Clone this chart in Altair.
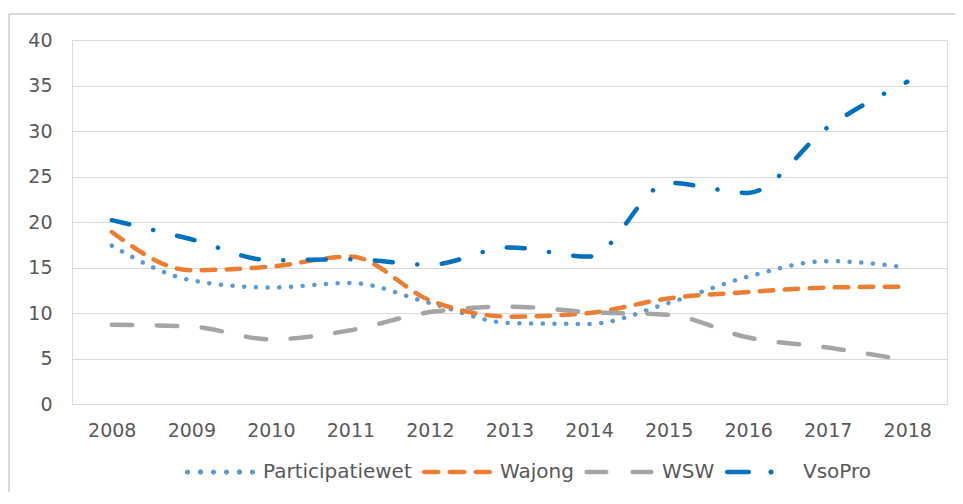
import json
import altair as alt
import pandas as pd

years = ["2008", "2009", "2010", "2011", "2012", "2013", "2014", "2015", "2016", "2017", "2018"]
series_names = ["Participatiewet", "Wajong", "WSW", "VsoPro"]
participatiewet = [17.4, 13.6, 12.8, 13.3, 11.1, 8.9, 8.8, 11.1, 14.0, 15.7, 15.0]
wajong = [18.9, 14.7, 15.1, 16.2, 11.4, 9.6, 10.0, 11.6, 12.3, 12.8, 12.9]
wsw = [8.7, 8.5, 7.1, 8.1, 10.1, 10.7, 10.1, 9.8, 7.3, 6.2, 4.8]
vsopro = [20.2, 18.1, 15.8, 15.9, 15.3, 17.2, 16.2, 24.3, 23.2, 30.4, 35.4]
y_ticks = [0, 5, 10, 15, 20, 25, 30, 35, 40]

colors = ["#5B9BD5", "#ED7D31", "#A5A5A5", "#0070C0"]
dashes = [[0.1, 11.6], [13.5, 11.5], [20.5, 24.5], [18, 24.5, 0.1, 24.5]]
widths = [4.5, 4.5, 4.5, 5.0]

rows = []
for name, vals in zip(series_names, [participatiewet, wajong, wsw, vsopro]):
    for yr, v in zip(years, vals):
        rows.append({"jaar": yr, "serie": name, "waarde": v})
df = pd.DataFrame(rows)

legend_df = pd.DataFrame({"nr": [str(i) for i in range(len(series_names))], "serie": series_names})
nr_domain = list(legend_df["nr"])

# legend symbol shapes (unit: 35 px)
U = 35.0
H = 2.25 / U
R = 2.6 / U


def circ(cx):
    cx = cx / U
    return f"M{cx - R:.4f},0A{R:.4f},{R:.4f} 0 1,0 {cx + R:.4f},0A{R:.4f},{R:.4f} 0 1,0 {cx - R:.4f},0Z"


def seg(a, b):
    a, b = a / U, b / U
    return (f"M{a + H:.4f},{-H:.4f}L{b - H:.4f},{-H:.4f}A{H:.4f},{H:.4f} 0 0,1 {b - H:.4f},{H:.4f}"
            f"L{a + H:.4f},{H:.4f}A{H:.4f},{H:.4f} 0 0,1 {a + H:.4f},{-H:.4f}Z")


shapes = [
    "".join(circ(c) for c in [-32.5, -19.5, -6.5, 6.5, 19.5, 32.5]),
    seg(-35, -16.5) + seg(-9.5, 9.5) + seg(16.5, 35),
    seg(-34.5, -10.5) + seg(11.5, 34.5),
    seg(-35, -9) + circ(11),
]

FONT = "DejaVu Sans"
TXT = "#595959"

x_enc = alt.X("jaar:O", sort=years, scale=alt.Scale(type="point", padding=0.5),
              axis=alt.Axis(title=None, labelAngle=0, domain=False, ticks=False, grid=False,
                            labelFont=FONT, labelFontSize=19, labelColor=TXT, labelPadding=17))
y_enc = alt.Y("waarde:Q", scale=alt.Scale(domain=[0, 40], nice=False, zero=True),
              axis=alt.Axis(title=None, values=y_ticks, domain=False, ticks=False,
                            grid=True, gridColor="#D9D9D9", gridWidth=1.2,
                            labelFont=FONT, labelFontSize=19, labelColor=TXT, labelPadding=20))

lines = alt.Chart(df).mark_line(interpolate="monotone", strokeCap="round").encode(
    x=x_enc,
    y=y_enc,
    color=alt.Color("serie:N", scale=alt.Scale(domain=series_names, range=colors), legend=None),
    strokeDash=alt.StrokeDash("serie:N", scale=alt.Scale(domain=series_names, range=dashes), legend=None),
    strokeWidth=alt.StrokeWidth("serie:N", scale=alt.Scale(domain=series_names, range=widths), legend=None),
)

label_expr = f"{json.dumps(series_names)}[toNumber(datum.value)]"
legend_def = alt.Legend(title=None, orient="none", legendX=113, legendY=397, direction="horizontal",
                        symbolSize=4900, symbolStrokeWidth=0, padding=0,
                        labelFont=FONT, labelFontSize=20, labelColor=TXT,
                        labelOffset=8, columnPadding=10, labelExpr=label_expr)

legend_pts = alt.Chart(legend_df).transform_filter("false").mark_point(filled=True, opacity=1).encode(
    fill=alt.Fill("nr:N", scale=alt.Scale(domain=nr_domain, range=colors), legend=legend_def),
    shape=alt.Shape("nr:N", scale=alt.Scale(domain=nr_domain, range=shapes), legend=legend_def),
)

one = alt.Data(values=[{"k": 1}])
border_top = alt.Chart(one).mark_rule(color="#D9D9D9", strokeWidth=2).encode(
    x=alt.value(-63), x2=alt.value(900), y=alt.value(-26))
border_left = alt.Chart(one).mark_rule(color="#D9D9D9", strokeWidth=2).encode(
    x=alt.value(-63), y=alt.value(-26), y2=alt.value(470))

chart = alt.layer(border_top, border_left, lines, legend_pts).properties(
    width=875, height=364,
    autosize="none",
    padding={"left": 64, "top": 32, "right": 8, "bottom": 88},
).configure_view(strokeWidth=0).configure(background="white")

chart.save("out.html", embed_options={"renderer": "svg", "actions": False})
